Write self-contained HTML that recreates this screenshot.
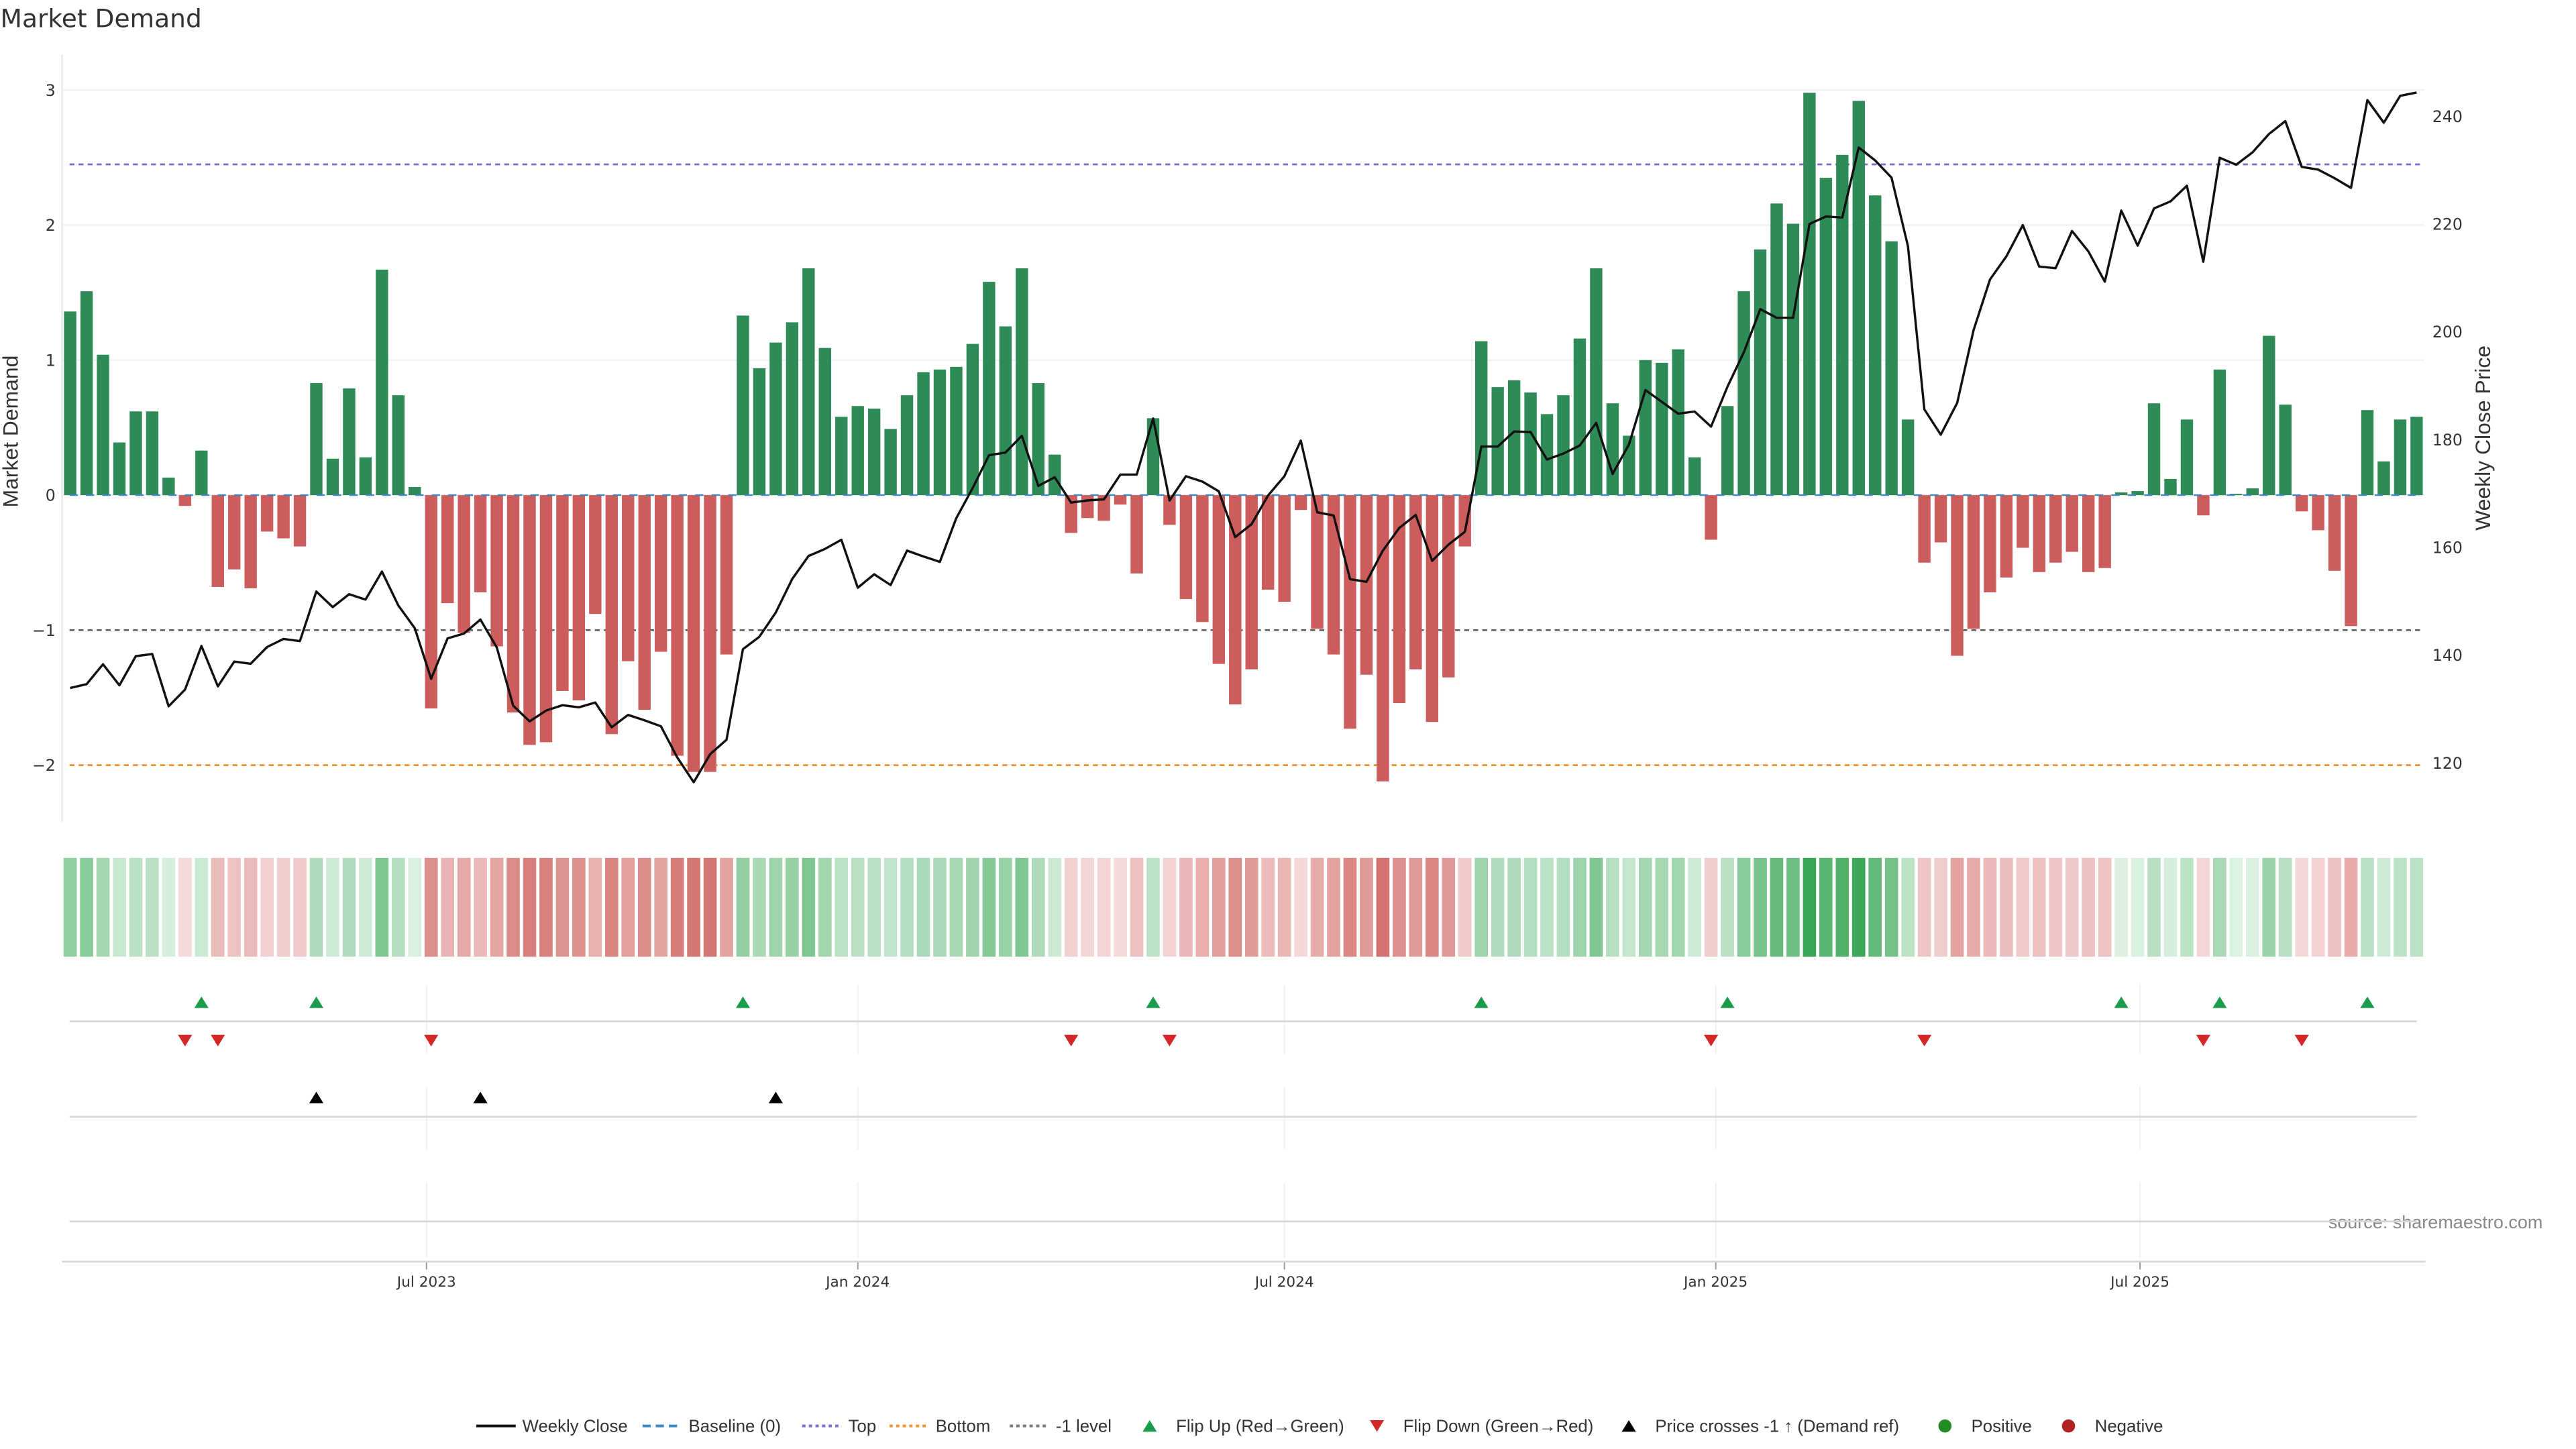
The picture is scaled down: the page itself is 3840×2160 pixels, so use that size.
<!DOCTYPE html>
<html><head><meta charset="utf-8"><title>Market Demand</title>
<style>
html,body{margin:0;padding:0;background:#fff;}
svg{display:block;}
.tk{font-family:"DejaVu Sans","Liberation Sans",sans-serif;font-size:9.6px;fill:#333;}
.nar{font-family:"Liberation Sans Narrow","Liberation Sans",sans-serif;}
</style></head>
<body>
<svg id="chart" width="3840" height="2160" viewBox="0 0 1564 880" xmlns="http://www.w3.org/2000/svg">
<text x="0" y="16.5" style="font-family:'DejaVu Sans','Liberation Sans',sans-serif;font-size:15.3px;fill:#333;">Market Demand</text>
<text class="nar" transform="translate(10.5,262) rotate(-90)" text-anchor="middle" style="font-size:13px;fill:#333;">Market Demand</text>
<text class="nar" transform="translate(1512,266) rotate(-90)" text-anchor="middle" style="font-size:13px;fill:#333;">Weekly Close Price</text>
<text class="nar" x="1544" y="746" text-anchor="end" style="font-size:11px;fill:#888;">source: sharemaestro.com</text>
<g id="main"></g>
<g id="legend"></g>
</svg>
<script>
// ---- data ----
const weekStart = "2023-01-30";
const demand = [1.36,1.51,1.04,0.39,0.62,0.62,0.13,-0.08,0.33,-0.68,-0.55,-0.69,-0.27,-0.32,-0.38,0.83,0.27,0.79,0.28,1.67,0.74,0.06,-1.58,-0.80,-1.02,-0.72,-1.12,-1.61,-1.85,-1.83,-1.45,-1.52,-0.88,-1.77,-1.23,-1.59,-1.16,-1.93,
-2.05,-2.05,-1.18,1.33,0.94,1.13,1.28,1.68,1.09,0.58,0.66,0.64,0.49,0.74,0.91,0.93,0.95,1.12,1.58,1.25,1.68,0.83,0.30,-0.28,-0.17,-0.19,-0.07,-0.58,0.57,-0.22,-0.77,-0.94,-1.25,-1.55,-1.29,-0.70,-0.79,-0.11,
-0.99,-1.18,-1.73,-1.33,-2.12,-1.54,-1.29,-1.68,-1.35,-0.38,1.14,0.80,0.85,0.76,0.60,0.74,1.16,1.68,0.68,0.44,1.00,0.98,1.08,0.28,-0.33,0.66,1.51,1.82,2.16,2.01,2.98,2.35,2.52,2.92,2.22,1.88,0.56,-0.50,
-0.35,-1.19,-0.99,-0.72,-0.61,-0.39,-0.57,-0.50,-0.42,-0.57,-0.54,0.02,0.03,0.68,0.12,0.56,-0.15,0.93,0.01,0.05,1.18,0.67,-0.12,-0.26,-0.56,-0.97,0.63,0.25,0.56,0.58];
const price = [133.9,134.6,138.3,134.4,139.8,140.2,130.5,133.6,141.7,134.2,138.8,138.4,141.5,143.0,142.6,151.8,148.9,151.3,150.3,155.5,149.2,145.0,135.6,143.1,144.0,146.6,141.4,130.6,127.7,129.7,130.7,130.3,131.2,126.6,128.9,127.9,126.8,121.0,
116.4,121.6,124.3,141.1,143.4,147.9,154.1,158.4,159.7,161.4,152.5,155.0,153.0,159.4,158.3,157.3,165.4,171.0,177.1,177.6,180.7,171.4,173.0,168.3,168.7,168.9,173.5,173.5,183.9,168.7,173.2,172.2,170.4,161.9,164.3,169.6,173.2,179.8,
166.5,165.9,154.1,153.6,159.4,163.6,166.0,157.5,160.5,162.9,178.7,178.7,181.5,181.4,176.3,177.4,178.9,183.1,173.6,179.1,189.2,187.0,184.8,185.2,182.4,189.8,196.2,204.2,202.6,202.6,220.0,221.4,221.2,234.2,231.8,228.6,215.9,185.6,
180.9,186.8,200.3,209.7,214.0,219.8,212.1,211.8,218.7,214.9,209.3,222.5,216.0,222.9,224.2,227.1,213.0,232.3,231.0,233.3,236.7,239.1,230.6,230.1,228.5,226.7,243.0,238.8,243.8,244.4];
const leftTicks = [-2,-1,0,1,2,3];
const rightTicks = [120,140,160,180,200,220,240];
const dateTicks = ["2023-07-01","2024-01-01","2024-07-01","2025-01-01","2025-07-01"];
const dateLabels = ["Jul 2023","Jan 2024","Jul 2024","Jan 2025","Jul 2025"];
const refLevels = [2.45,-1,-2];
const refNames = ["top-line","minus-one-level-line","bottom-line"];
const refColors = ["#7b6cc9","#666","#f0922b"];

// ---- scales ----
const NS="http://www.w3.org/2000/svg";
const DAY=86400000, t0=Date.parse(weekStart);
const X0=42.4, PXDAY=1.4236;
function xDate(s){return X0+(Date.parse(s)-t0)/DAY*PXDAY;}
function xIdx(i){return X0+i*7*PXDAY;}
function yL(v){return 300.7-v*82.0;}
function yR(p){return 463.3-(p-120)*3.2725;}
function pToL(p){return (300.7-yR(p))/82.0;}
const XL=37.5, XR=1472;
const g=document.getElementById('main');
function mk(tag,attrs,parent){const e=document.createElementNS(NS,tag);for(const k in attrs)e.setAttribute(k,attrs[k]);(parent||g).appendChild(e);return e;}

leftTicks.forEach(v=>{
  if(v!==-1&&v!==-2){const l=mk('line',{x1:XL,x2:XR,y1:yL(v),y2:yL(v),stroke:'#eceff3','stroke-width':0.8});
  
  }
  const t=mk('text',{x:33.5,y:yL(v)+3.5,'text-anchor':'end',class:'tk'});t.textContent=(v<0?'\u2212':'')+Math.abs(v);
  
  
});
rightTicks.forEach(v=>{
  const t=mk('text',{x:1477,y:yR(v)+3.5,class:'tk'});t.textContent=v;
  
  
});
const ax=mk('line',{x1:XL,x2:XL,y1:33,y2:499,stroke:'#e8ebef','stroke-width':1});



refLevels.forEach((v,k)=>{
  const l=mk('line',{x1:42,x2:XR,y1:yL(v),y2:yL(v),stroke:refColors[k],'stroke-width':1.1,'stroke-dasharray':'3,2.5'});
  
  
});

demand.forEach((v,i)=>{
  const x=xIdx(i)-3.75, y0=yL(0), y1=yL(v);
  const r=mk('rect',{x:x,y:Math.min(y0,y1),width:7.5,height:Math.max(0.3,Math.abs(y1-y0)),fill:v>=0?'#2e8b57':'#cd5c5c'});
  
  
});
const bl=mk('line',{x1:42,x2:XR,y1:yL(0),y2:yL(0),stroke:'#3f87c7','stroke-width':1,'stroke-dasharray':'5,5'});



const pl=mk('polyline',{points:price.map((p,i)=>xIdx(i).toFixed(2)+','+yR(p).toFixed(2)).join(' '),fill:'none',stroke:'#111','stroke-width':1.4,'stroke-linejoin':'round'});



function mix(a,b,t){return 'rgb('+a.map((c,k)=>Math.round(c+(b[k]-c)*t)).join(',')+')';}
demand.forEach((v,i)=>{
  const col=v>=0?mix([220,241,226],[55,165,83],Math.min(1,v/3)):mix([246,222,222],[210,110,106],Math.min(1,-v/2.2));
  const r=mk('rect',{x:xIdx(i)-4,y:521,width:8,height:60,fill:col});
  
  
});

dateTicks.forEach((d,k)=>{
  const x=xDate(d);
  [[598,640],[660,698],[718,764]].forEach(s=>{
    const l=mk('line',{x1:x,x2:x,y1:s[0],y2:s[1],stroke:'#eef0f3','stroke-width':0.8});
    
    
  });
  const tk=mk('line',{x1:x,x2:x,y1:766,y2:771,stroke:'#999','stroke-width':0.8});
  
  
  const t=mk('text',{x:x,y:781.5,'text-anchor':'middle',class:'tk',style:'font-size:8.8px'});t.textContent=dateLabels[k];
  
  
});
[[42,1467.5,620.3],[42,1467.5,678.2],[42,1467.5,741.8],[37.5,1472.8,766.2]].forEach((s,k)=>{
  const l=mk('line',{x1:s[0],x2:s[1],y1:s[2],y2:s[2],stroke:'#d4d6da','stroke-width':1.1});
  
  
});

function tri(x,y,up,col){const h=7,w=4.3;
  const pts=up?[x,y-h/2,x+w,y+h/2,x-w,y+h/2]:[x-w,y-h/2,x+w,y-h/2,x,y+h/2];
  return mk('polygon',{points:pts.join(','),fill:col});}
const lvl=-1;
for(let i=1;i<demand.length;i++){
  const p=demand[i-1],c=demand[i];
  if(p<0&&c>=0){const m=tri(xIdx(i),608.7,true,'#1a9c4a');
    
    }
  if(p>=0&&c<0){const m=tri(xIdx(i),632,false,'#d62728');
    
    }
  if(pToL(price[i-1])<lvl&&pToL(price[i])>=lvl){const m=tri(xIdx(i),666.5,true,'#000');
    
    }
}

const lg=document.getElementById('legend');
const LY=866;
const items=[
 {x:289,t:'Weekly Close',k:'line',c:'#111',d:'',n:'legend-weekly-close'},
 {x:390,t:'Baseline (0)',k:'line',c:'#3f87c7',d:'5,3',n:'legend-baseline'},
 {x:487,t:'Top',k:'line',c:'#7b6cc9',d:'2,2',n:'legend-top'},
 {x:540,t:'Bottom',k:'line',c:'#f0922b',d:'2,2',n:'legend-bottom'},
 {x:613,t:'-1 level',k:'line',c:'#777',d:'2,2',n:'legend-minus-one'},
 {x:693,t:'Flip Up (Red\u2192Green)',k:'up',c:'#1a9c4a',n:'legend-flip-up'},
 {x:831,t:'Flip Down (Green\u2192Red)',k:'down',c:'#d62728',n:'legend-flip-down'},
 {x:984,t:'Price crosses -1 \u2191 (Demand ref)',k:'up',c:'#000',n:'legend-price-cross'},
 {x:1176,t:'Positive',k:'dot',c:'#228b22',n:'legend-positive'},
 {x:1251,t:'Negative',k:'dot',c:'#b22222',n:'legend-negative'}];
items.forEach(it=>{
  const gi=document.createElementNS(NS,'g');lg.appendChild(gi);
  
  
  let tx;
  if(it.k==='line'){mk('line',{x1:it.x,x2:it.x+24,y1:LY,y2:LY,stroke:it.c,'stroke-width':1.6,'stroke-dasharray':it.d},gi);tx=it.x+28;}
  else if(it.k==='dot'){mk('circle',{cx:it.x+5,cy:LY,r:4,fill:it.c},gi);tx=it.x+21;}
  else{const h=7,w=4.3,x=it.x+5,y=LY;
    const pts=it.k==='up'?[x,y-h/2,x+w,y+h/2,x-w,y+h/2]:[x-w,y-h/2,x+w,y-h/2,x,y+h/2];
    mk('polygon',{points:pts.join(','),fill:it.c},gi);tx=it.x+21;}
  const t=mk('text',{x:tx,y:LY+3.7,class:'tk',style:'font-family:\"Liberation Sans\",sans-serif;font-size:10.5px'},gi);t.textContent=it.t;
});
</script>
</body></html>
